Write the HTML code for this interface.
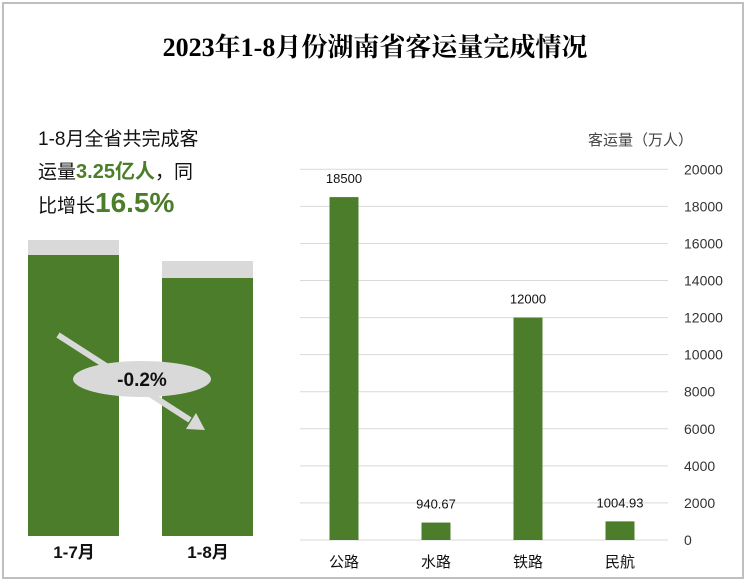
<!DOCTYPE html>
<html><head><meta charset="utf-8">
<style>
body{margin:0;background:#fff;}
#wrap{position:relative;width:750px;height:584px;overflow:hidden;font-family:"Liberation Sans","Noto Sans CJK SC",sans-serif;}
#frame{position:absolute;left:2px;top:2px;width:742px;height:577px;border:2px solid #bfbfbf;box-sizing:border-box;}
#title{position:absolute;left:0;width:750px;top:27px;text-align:center;font-size:26px;font-weight:bold;color:#000;font-family:"Liberation Serif","Noto Serif CJK SC",serif;}
.lt{position:absolute;left:38px;font-size:19px;color:#111;}
.g{color:#4b7d2a;font-weight:bold;}
</style></head><body>
<div id="wrap">
<div id="frame"></div>
<div id="title">2023年1-8月份湖南省客运量完成情况</div>
<div class="lt" style="top:124px">1-8月全省共完成客</div>
<div class="lt" style="top:155px">运量<span class="g" style="font-size:20px">3.25亿人</span>，同</div>
<div class="lt" style="top:187px">比增长<span class="g" style="font-size:28px">16.5%</span></div>
<svg id="svg" width="750" height="584" style="position:absolute;left:0;top:0"></svg>
</div>
<script>
const categories=["公路","水路","铁路","民航"];
const values=[18500,940.67,12000,1004.93];
const valueLabels=["18500","940.67","12000","1004.93"];
const ticks=[0,2000,4000,6000,8000,10000,12000,14000,16000,18000,20000];
const compareCats=["1-7月","1-8月"];
const compareVals=[100,92.9];
const NS="http://www.w3.org/2000/svg";
const svg=document.getElementById('svg');
function mk(t,a,txt){const e=document.createElementNS(NS,t);for(const k in a)e.setAttribute(k,a[k]);if(txt!==undefined)e.textContent=txt;svg.appendChild(e);return e;}
const y0=540,y1=169.3,ymax=20000;
function y(v){return y0-(v/ymax)*(y0-y1);}
const xl=300,xr=668,band=(xr-xl)/4;
function x(i){return xl+band*(i+0.5)-2;}
ticks.forEach(t=>{
 const l=mk('line',{x1:xl,x2:xr,y1:y(t),y2:y(t),stroke:'#d9d9d9','stroke-width':1});
 
 const tx=mk('text',{x:684,y:y(t)+5,'font-size':14,fill:'#333','font-family':'Liberation Sans,sans-serif'},String(t));
 
});
const at=mk('text',{x:588,y:145,'font-size':15,fill:'#444','font-family':'Liberation Sans,Noto Sans CJK SC,sans-serif'},'客运量（万人）');

categories.forEach((c,i)=>{
 const bw=29;
 const r=mk('rect',{x:x(i)-bw/2,y:y(values[i]),width:bw,height:y0-y(values[i]),fill:'#4b7d2a'});
 
 const vl=mk('text',{x:x(i),y:y(values[i])-14,'text-anchor':'middle','font-size':13,fill:'#111'},valueLabels[i]);
 
 const cl=mk('text',{x:x(i),y:567,'text-anchor':'middle','font-size':15,fill:'#111','font-family':'Liberation Sans,Noto Sans CJK SC,sans-serif'},c);
 
});
const lb=536,lscale=(536-240)/100;
const lx=[28,162];
compareCats.forEach((c,i)=>{
 const top=lb-compareVals[i]*lscale;
 const off=i==0?15:17;
 const g=mk('rect',{x:lx[i],y:top,width:91,height:lb-top,fill:'#d9d9d9'});
 
 const gr=mk('rect',{x:lx[i],y:top+off,width:91,height:lb-top-off,fill:'#4b7d2a'});
 
 const t=mk('text',{x:lx[i]+46,y:558,'text-anchor':'middle','font-size':17,'font-weight':'bold',fill:'#111','font-family':'Liberation Sans,Noto Sans CJK SC,sans-serif'},c);
 
});
const ar=mk('line',{x1:58,y1:335,x2:190,y2:420,stroke:'#d9d9d9','stroke-width':6});

const ah=mk('polygon',{points:'205,430 186,429 196,413',fill:'#d9d9d9'});

const el=mk('ellipse',{cx:142,cy:379,rx:69,ry:18,fill:'#d9d9d9'});

const et=mk('text',{x:142,y:386,'text-anchor':'middle','font-size':19,'font-weight':'bold',fill:'#111'},'-0.2%');

</script>
</body></html>
